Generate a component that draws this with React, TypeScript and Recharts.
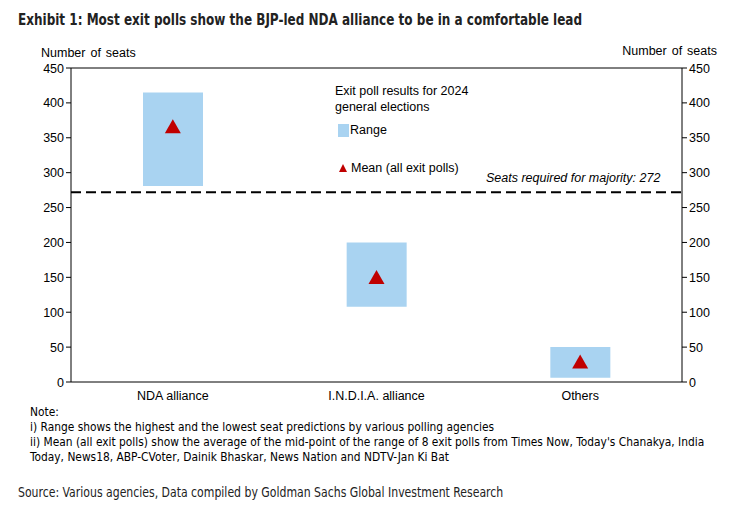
import React from "react";
import { ComposedChart, Bar, Line, XAxis, YAxis, ReferenceLine } from "recharts";

const categories = ["NDA alliance", "I.N.D.I.A. alliance", "Others"];
const rangeLow = [281, 108, 6];
const rangeHigh = [415, 200, 50];
const meanSeats = [365, 149, 28];
const yTicks = [0, 50, 100, 150, 200, 250, 300, 350, 400, 450];
const majority = 272;

const data = categories.map((name, i) => ({
  name,
  range: [rangeLow[i], rangeHigh[i]],
  mean: meanSeats[i],
}));

const FONT = "'Liberation Sans', Arial, sans-serif";
const COND = "'DejaVu Sans Condensed', 'Liberation Sans', sans-serif";

const Triangle = (props: any) => {
  const { cx, cy } = props;
  if (cx == null || cy == null) return null;
  return <polygon points={`${cx},${cy - 8} ${cx - 8},${cy + 6} ${cx + 8},${cy + 6}`} fill="#C00000" />;
};

const LeftTick = (props: any) => {
  const { x, y, payload } = props;
  return (
    <text x={x} y={y} dy={4.5} textAnchor="end" fill="#000" fontSize={12.5} fontFamily={FONT}>
      {payload.value}
    </text>
  );
};

const RightTick = (props: any) => {
  const { x, y, payload } = props;
  return (
    <text x={x} y={y} dy={4.5} textAnchor="start" fill="#000" fontSize={12.5} fontFamily={FONT}>
      {payload.value}
    </text>
  );
};

export default function App() {
  return (
    <div style={{ position: "absolute", left: 0, top: 0, width: 743, height: 510, background: "#fff", fontFamily: FONT }}>
      <div style={{ position: "absolute", left: 18, top: 10, fontFamily: COND, fontWeight: "bold", fontSize: 16, color: "#222", whiteSpace: "nowrap", transform: "scaleX(0.835)", transformOrigin: "0 0" }}>
        Exhibit 1: Most exit polls show the BJP-led NDA alliance to be in a comfortable lead
      </div>
      <div style={{ position: "absolute", left: 41, top: 46, fontSize: 12.5, wordSpacing: 1.5, color: "#000" }}>Number of seats</div>
      <div style={{ position: "absolute", right: 26, top: 44, fontSize: 12.5, wordSpacing: 1.5, color: "#000" }}>Number of seats</div>
      <div style={{ position: "absolute", left: 0, top: 0 }}>
        <ComposedChart width={743} height={510} data={data} margin={{ top: 68, left: 31, right: 21, bottom: 97 }}>
          <XAxis xAxisId="b" type="number" domain={[0, 3]} ticks={[0, 1, 2, 3]} height={1} tick={false} axisLine={false} tickLine={{ stroke: "#000" }} tickSize={5} />
          <XAxis dataKey="name" xAxisId={0} height={30} axisLine={{ stroke: "#000" }} tickLine={false} tick={{ fill: "#000", fontSize: 12.5, fontFamily: FONT }} tickMargin={3} />
          <YAxis yAxisId="left" domain={[0, 450]} ticks={yTicks} width={40} axisLine={{ stroke: "#000" }} tickLine={{ stroke: "#000" }} tickSize={5} tick={<LeftTick />} interval={0} />
          <YAxis yAxisId="right" orientation="right" domain={[0, 450]} ticks={yTicks} width={40} axisLine={{ stroke: "#000" }} tickLine={{ stroke: "#000" }} tickSize={5} tick={<RightTick />} interval={0} />
          <ReferenceLine yAxisId="left" y={450} stroke="#000" strokeWidth={1} />
          <Bar yAxisId="left" dataKey="range" fill="#A9D3F1" barSize={60} isAnimationActive={false} />
          <Line yAxisId="right" dataKey="mean" stroke="none" dot={false} activeDot={false} legendType="none" isAnimationActive={false} />
          <Line yAxisId="left" dataKey="mean" stroke="none" dot={<Triangle />} activeDot={false} isAnimationActive={false} />
          <ReferenceLine yAxisId="left" y={majority} stroke="#000" strokeWidth={2} strokeDasharray="10 5" />
        </ComposedChart>
      </div>
      <div style={{ position: "absolute", left: 335, top: 83, fontSize: 12.5, lineHeight: "16px", color: "#000" }}>
        Exit poll results for 2024<br />general elections
      </div>
      <div style={{ position: "absolute", left: 338, top: 124, width: 11, height: 13, background: "#A9D3F1" }} />
      <div style={{ position: "absolute", left: 350, top: 123, fontSize: 12.5, color: "#000" }}>Range</div>
      <svg style={{ position: "absolute", left: 338, top: 163 }} width={10} height={10}>
        <polygon points="5,1 9,9 1,9" fill="#C00000" />
      </svg>
      <div style={{ position: "absolute", left: 351, top: 161, fontSize: 12.5, color: "#000" }}>Mean (all exit polls)</div>
      <div style={{ position: "absolute", left: 486, top: 171, fontSize: 12.5, fontStyle: "italic", color: "#000" }}>
        Seats required for majority: 272
      </div>
      <div style={{ position: "absolute", left: 30, top: 405, fontSize: 11.85, lineHeight: "15px", color: "#000", fontFamily: COND, width: 712 }}>
        Note:<br />
        i) Range shows the highest and the lowest seat predictions by various polling agencies<br />
        ii) Mean (all exit polls) show the average of the mid-point of the range of 8 exit polls from Times Now, Today's Chanakya, India<br />
        Today, News18, ABP-CVoter, Dainik Bhaskar, News Nation and NDTV-Jan Ki Bat
      </div>
      <div style={{ position: "absolute", left: 18, top: 484, fontFamily: COND, fontSize: 14, color: "#222", whiteSpace: "nowrap", transform: "scaleX(0.866)", transformOrigin: "0 0" }}>
        Source: Various agencies, Data compiled by Goldman Sachs Global Investment Research
      </div>
    </div>
  );
}
